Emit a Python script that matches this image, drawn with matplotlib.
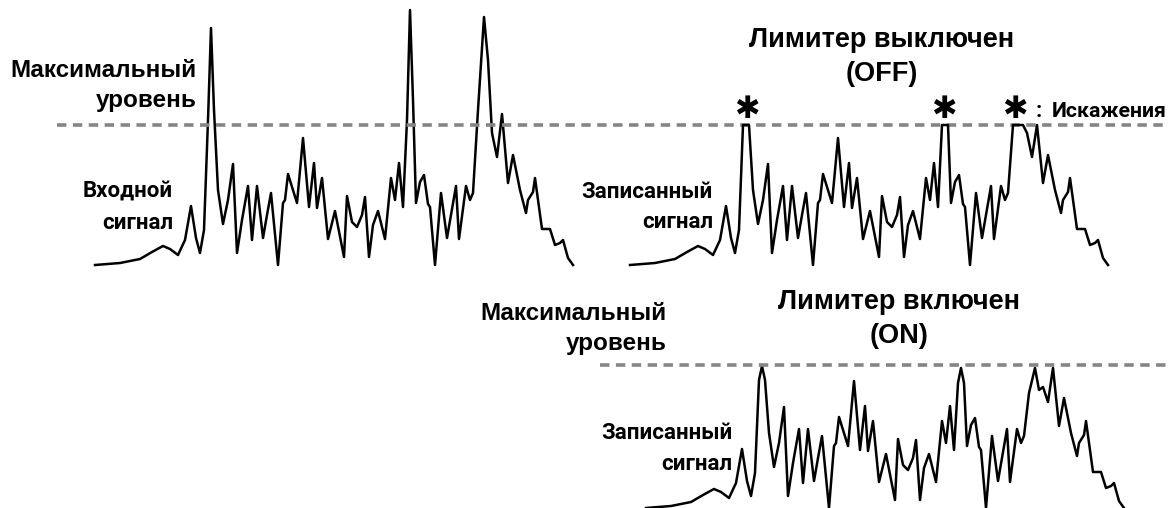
import numpy as np
import matplotlib
matplotlib.use('Agg')
import matplotlib.pyplot as plt
from matplotlib import font_manager

# Входной сигнал: время (от начала) и уровень (над нулевой линией)
sig_t = [0, 25, 45, 57, 68, 75, 83, 90, 96, 101, 105, 109, 113, 116, 119, 123, 128, 133, 138, 142,
         147, 153, 157, 162, 168, 172, 176, 183, 188, 190, 193, 202, 208, 214, 219, 222, 227, 233, 240, 249,
         252, 257, 262, 267, 270, 274, 278, 283, 290, 296, 300, 304, 308, 312, 315, 318, 321, 325, 329, 333,
         335, 340, 346, 352, 361, 364, 371, 375, 378, 383, 389, 393, 397, 402, 407, 413, 418, 425, 431, 433,
         438, 440, 447, 455, 460, 465, 468, 473, 478]
input_level = [0, 2, 6, 13, 19, 16, 10, 25, 59, 27, 12, 35, 145, 237, 155, 75, 41, 65, 101, 12,
               45, 79, 25, 79, 27, 50, 72, 0, 62, 65, 91, 62, 127, 58, 102, 57, 87, 26, 54, 8,
               69, 43, 38, 50, 68, 8, 40, 54, 26, 87, 65, 102, 58, 145, 255, 165, 62, 83, 90, 61,
               58, 0, 72, 27, 79, 26, 79, 65, 72, 155, 248, 205, 132, 108, 151, 82, 110, 75, 52, 65,
               73, 87, 36, 36, 20, 22, 25, 7, 0]
# Записанный сигнал с включенным лимитером
on_level = [0, 2, 6, 13, 19, 16, 10, 25, 59, 27, 12, 35, 128, 142, 128, 75, 41, 65, 101, 12,
            45, 79, 25, 79, 27, 50, 72, 0, 62, 65, 91, 62, 127, 58, 102, 57, 87, 26, 54, 8,
            69, 43, 38, 50, 68, 8, 40, 54, 26, 87, 65, 102, 58, 125, 140, 125, 62, 83, 90, 61,
            58, 0, 72, 27, 79, 26, 79, 65, 72, 115, 140, 118, 121, 106, 140, 82, 110, 75, 52, 65,
            73, 87, 36, 36, 20, 22, 25, 7, 0]
max_level = 140
max_level_on = 143
distortion_t = [117, 314, 385]

t = np.array(sig_t)
lv_in = np.array(input_level)
lv_off = np.minimum(lv_in, max_level)  # лимитер выключен -> срез
lv_on = np.array(on_level)


def pick_font(names):
    for n in names:
        try:
            font_manager.findfont(font_manager.FontProperties(family=n), fallback_to_default=False)
            return n
        except Exception:
            pass
    return 'DejaVu Sans'


BOLD = pick_font(['Liberation Sans', 'Arial', 'DejaVu Sans'])
NARROW = pick_font(['Liberation Sans Narrow', 'Arial Narrow', 'Roboto', 'Liberation Sans'])

fig = plt.figure(figsize=(11.71, 5.08), dpi=100)
ax = fig.add_axes([0, 0, 1, 1])
ax.set_xlim(0, 1171)
ax.set_ylim(508, 0)
ax.axis('off')

dash_kw = dict(color='#858585', lw=2.6, dashes=(2.6, 1.8), dash_capstyle='butt')
wave_kw = dict(color='black', lw=1.8, solid_joinstyle='round')

# панель 1: входной сигнал
x0, y0 = 95, 265
ax.plot(x0 + t, y0 - lv_in, **wave_kw)
ax.plot([57, 1164], [y0 - max_level] * 2, **dash_kw)

# панель 2: лимитер выключен
x1, y1 = 630, 265
ax.plot(x1 + t, y1 - lv_off, **wave_kw)
for dt in distortion_t:
    ax.text(x1 + dt, y1 - max_level - 7, '\u2731', fontsize=22, fontweight='bold',
            family='DejaVu Sans', ha='center', va='baseline')

# панель 3: лимитер включен
x2, y2 = 646, 508
ax.plot(x2 + t, y2 - lv_on, **wave_kw)
ax.plot([600, 1171], [y2 - max_level_on] * 2, **dash_kw)

# подписи
big = dict(family=BOLD, fontweight='bold', fontsize=17.5)
nar = dict(family=NARROW, fontweight='bold', fontsize=16)
ttl = dict(family=BOLD, fontweight='bold', fontsize=19.5)

ax.text(197, 77, 'Максимальный', ha='right', va='baseline', **big)
ax.text(197, 107, 'уровень', ha='right', va='baseline', **big)
ax.text(173, 197, 'Входной', ha='right', va='baseline', **nar)
ax.text(173, 229, 'сигнал', ha='right', va='baseline', **nar)

ax.text(882, 47, 'Лимитер выключен', ha='center', va='baseline', **ttl)
ax.text(882, 81, '(OFF)', ha='center', va='baseline', **ttl)
ax.text(713, 198, 'Записанный', ha='right', va='baseline', **nar)
ax.text(713, 228, 'сигнал', ha='right', va='baseline', **nar)
ax.text(1039, 117, ':', ha='center', va='baseline', **nar)
ax.text(1052, 117, 'Искажения', ha='left', va='baseline',
        family=NARROW, fontweight='bold', fontsize=15.3)

ax.text(667, 320, 'Максимальный', ha='right', va='baseline', **big)
ax.text(667, 350, 'уровень', ha='right', va='baseline', **big)
ax.text(899, 309, 'Лимитер включен', ha='center', va='baseline', **ttl)
ax.text(899, 343, '(ON)', ha='center', va='baseline', **ttl)
ax.text(732, 439, 'Записанный', ha='right', va='baseline', **nar)
ax.text(732, 470, 'сигнал', ha='right', va='baseline', **nar)

fig.savefig('out.png', dpi=100)
